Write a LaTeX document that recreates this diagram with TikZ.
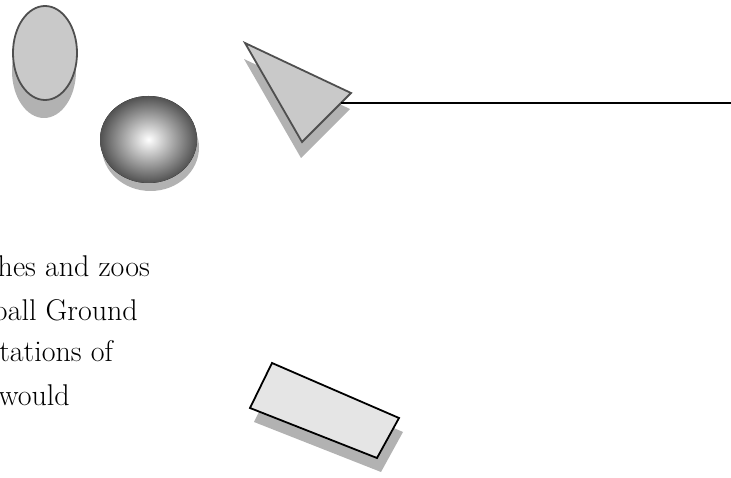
\documentclass[tikz,border=0pt]{standalone}
\usepackage{tikz}
\usetikzlibrary{shadows,calc}

\begin{document}
\begin{tikzpicture}[x=1pt,y=-1pt,
  egg/.style={draw=black!69,line width=1.8pt,fill=black!21},
  wedge/.style={draw=black!69,line width=1.8pt,fill=black!21,line join=miter},
  plate/.style={draw=black,line width=1.8pt,fill=black!10,line join=miter},
  txt/.style={inner sep=0pt,anchor=base east,font=\fontsize{30}{36}\selectfont}]
\useasboundingbox (0,0) rectangle (731,478);
% shapes
\draw[egg,drop shadow={shadow xshift=-1pt,shadow yshift=-18pt,opacity=1,fill=black!30}]
  (45,53) ellipse [x radius=32pt,y radius=47pt];
\fill[shading=radial,inner color=white,outer color=black!68,
  drop shadow={shadow xshift=2pt,shadow yshift=-8pt,opacity=1,fill=black!30}]
  (148.5,139.5) ellipse [x radius=48.5pt,y radius=43.5pt];
\coordinate (tA) at (245,43); \coordinate (tB) at (351,93); \coordinate (tC) at (302,142);
\draw[wedge,drop shadow={shadow xshift=-1pt,shadow yshift=-16pt,opacity=1,fill=black!30}]
  (tA)--(tB)--(tC)--cycle;
\coordinate (wire0) at ($(tB)!0.2!(tC)$);
\coordinate (wire1) at (731,103);
\draw[line width=2.2pt] (wire0|-wire1)--(wire1);
\draw[plate,drop shadow={shadow xshift=4pt,shadow yshift=-14pt,opacity=1,fill=black!30}]
  (272,363)--(399,418)--(377,458)--(250,408)--cycle;
% text
\node[txt] (l1) at (150,277) {hes and zoos};
\node[txt] (l2) at (138,320) {ball Ground};
\node[txt] (l3) at (113,362) {tations of};
\node[txt] (l4) at (70,405) {would};
\end{tikzpicture}
\end{document}
